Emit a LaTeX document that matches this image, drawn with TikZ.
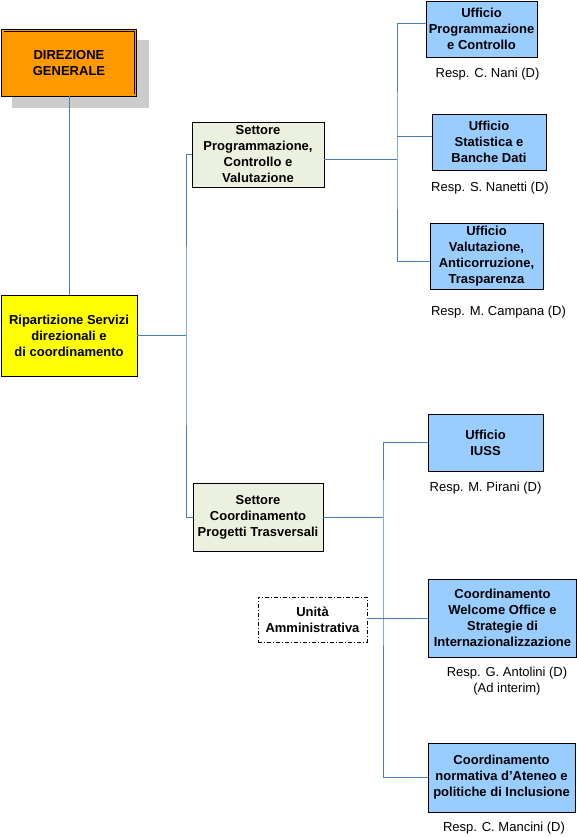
\documentclass[tikz,border=0pt]{standalone}
\usepackage{fontspec}
\setmainfont{Liberation Sans}
\definecolor{dgorange}{RGB}{255,153,0}
\definecolor{ripyellow}{RGB}{255,255,0}
\definecolor{setgreen}{RGB}{235,241,222}
\definecolor{ufblue}{RGB}{153,204,255}
\definecolor{connblue}{RGB}{74,126,187}
\definecolor{shadowgray}{RGB}{204,204,204}
\tikzset{
  box/.style={draw=black, line width=0.9pt, align=center, inner sep=0pt,
    font=\bfseries\fontsize{13}{16}\selectfont, text=black},
  conn/.style={draw=connblue, line width=0.9pt},
  resp/.style={font=\fontsize{13}{16}\selectfont, inner sep=0pt, align=center}
}
\begin{document}
\begin{tikzpicture}[x=1pt,y=-1pt]
\useasboundingbox (0,0) rectangle (577,837);
% shadow of DG
\fill[shadowgray] (12,40) rectangle (149,108);
% boxes
\node[box, fill=dgorange, double=dgorange, double distance=1.6pt, minimum width=132.6pt, minimum height=64.6pt] (dg) at (69,63) {DIREZIONE\\GENERALE};
\node[box, fill=ripyellow, minimum width=136pt, minimum height=81pt] (rip) at (69,335.5) {Ripartizione Servizi\\direzionali e\\ di coordinamento};
\node[box, fill=setgreen, minimum width=132pt, minimum height=65pt] (spc) at (258,154.5) {Settore\\Programmazione,\\Controllo e\\Valutazione};
\node[box, fill=setgreen, minimum width=130pt, minimum height=68pt] (scp) at (258,517) {Settore\\Coordinamento\\Progetti Trasversali};
\node[box, fill=ufblue, minimum width=111pt, minimum height=56pt] (upc) at (481.5,29) {Ufficio\\Programmazione\\e Controllo};
\node[box, fill=ufblue, minimum width=114pt, minimum height=56pt] (ust) at (489,142) {Ufficio\\Statistica e\\Banche Dati};
\node[box, fill=ufblue, minimum width=113pt, minimum height=66pt] (uval) at (486.5,256) {Ufficio\\Valutazione,\\Anticorruzione,\\Trasparenza};
\node[box, fill=ufblue, minimum width=115pt, minimum height=57pt] (iuss) at (485.5,442.5) {Ufficio\\IUSS};
\node[box, fill=ufblue, minimum width=148pt, minimum height=78pt] (wel) at (502.5,618) {Coordinamento\\Welcome Office e\\Strategie di\\Internazionalizzazione};
\node[box, fill=ufblue, minimum width=147pt, minimum height=69pt] (norm) at (501.5,777.5) {Coordinamento\\normativa d’Ateneo e\\politiche di Inclusione};
\node[box, fill=white, line width=0.8pt, dash pattern=on 4pt off 2pt on 1pt off 2pt, minimum width=109pt, minimum height=45pt] (una) at (312.5,619.5) {Unità\\Amministrativa};
% responsible labels
\node[resp] (rnani) at (487.5,74) {Resp. C. Nani (D)};
\node[resp] (rnanetti) at (490,188) {Resp. S. Nanetti (D)};
\node[resp] (rcampana) at (498.5,312) {Resp. M. Campana (D)};
\node[resp] (rpirani) at (485.5,488) {Resp. M. Pirani (D)};
\node[resp] (rantolini) at (507,681) {Resp. G. Antolini (D)\\(Ad interim)};
\node[resp] (rmancini) at (504,828) {Resp. C. Mancini (D)};
% junctions
\coordinate (b1) at (186,335.5);
\coordinate (b2) at (397,159);
\coordinate (b3) at (383,517);
\coordinate (b4) at (383,618);
% connectors
\draw[conn] (dg.south) -- (rip.north);
\draw[conn] (rip.east) -- (b1);
\draw[conn] (spc.west) -| (b1) |- (scp.west);
\draw[conn] ([yshift=-4.5pt]spc.east) -- (b2);
\draw[conn] ([yshift=6pt]upc.west) -| (b2) |- ([yshift=-5pt]uval.west);
\draw[conn] (b2 |- 0,136) -- ([yshift=6pt]ust.west);
\draw[conn] (scp.east) -- (b3);
\draw[conn] (iuss.west) -| (b3) |- (norm.west);
\draw[conn] (una.east |- b4) -- (wel.west);
\end{tikzpicture}
\end{document}
